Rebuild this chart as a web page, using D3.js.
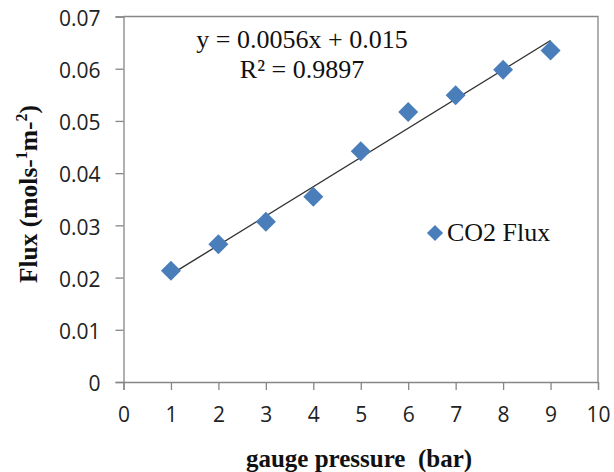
<!DOCTYPE html>
<html>
<head>
<meta charset="utf-8">
<script src="https://cdn.jsdelivr.net/npm/d3@7"></script>
<style>
  html, body { margin: 0; padding: 0; background: #fff; }
  svg { display: block; }
</style>
</head>
<body>
<svg id="chart" width="614" height="472"></svg>
<script>
// Measured CO2 flux against gauge pressure
const pressure = [1, 2, 3, 4, 5, 6, 7, 8, 9];
const flux = [0.0213, 0.0264, 0.0307, 0.0355, 0.0442, 0.0517, 0.0549, 0.0598, 0.0635];
const xTicks = [0, 1, 2, 3, 4, 5, 6, 7, 8, 9, 10];
const yTicks = [0, 0.01, 0.02, 0.03, 0.04, 0.05, 0.06, 0.07];
const slope = 0.0056, intercept = 0.015, rSquared = 0.9897;
const seriesName = "CO2 Flux";

const svg = d3.select("#chart");
const m = { left: 123.5, right: 598, top: 16.5, bottom: 382 };
const axisColor = "#868686";
const markColor = "#4A7EBB";
const serif = "'Liberation Serif', 'Times New Roman', serif";

const x = d3.scaleLinear().domain([0, 10]).range([m.left, m.right]);
const y = d3.scaleLinear().domain([0, 0.07]).range([m.bottom, m.top]);

// Plot frame (top and right edges)
svg.append("path")
  .attr("d", `M${m.left},${m.top}H${m.right}V${m.bottom}`)
  .attr("fill", "none").attr("stroke", axisColor).attr("stroke-width", 1.3);

// Axes
const xAxis = svg.append("g").attr("transform", `translate(0,${m.bottom})`)
  .call(d3.axisBottom(x).tickValues(xTicks).tickSize(8).tickPadding(17).tickFormat(d3.format("d")));
const yAxis = svg.append("g").attr("transform", `translate(${m.left},0)`)
  .call(d3.axisLeft(y).tickValues(yTicks).tickSize(8).tickPadding(15)
    .tickFormat(d => d === 0 ? "0" : d3.format(".2f")(d)));

[xAxis, yAxis].forEach(g => {
  g.select(".domain").attr("stroke", axisColor).attr("stroke-width", 1.3);
  g.selectAll(".tick line").attr("stroke", axisColor).attr("stroke-width", 1.3);
  g.selectAll(".tick text")
    .attr("fill", "#222").attr("font-family", "'Open Sans', sans-serif").attr("font-size", 21);
});
yAxis.selectAll(".tick text").attr("dy", "0.42em");

// Linear trendline across the data range
const fit = v => slope * v + intercept;
const xr = d3.extent(pressure);
svg.append("line")
  .attr("x1", x(xr[0])).attr("y1", y(fit(xr[0])))
  .attr("x2", x(xr[1])).attr("y2", y(fit(xr[1])))
  .attr("stroke", "#333").attr("stroke-width", 1.4);

// Diamond markers
const diamond = d3.symbol().type(d3.symbolSquare).size(200);
svg.append("g").selectAll("path").data(pressure).join("path")
  .attr("d", diamond)
  .attr("transform", (d, i) => `translate(${x(d)},${y(flux[i])}) rotate(45)`)
  .attr("fill", markColor);

// Trendline equation and R²
const eq = svg.append("g").attr("font-family", serif)
  .attr("font-size", 26).attr("fill", "#111");
eq.append("text").attr("x", 302).attr("y", 48).attr("text-anchor", "middle")
  .text(`y = ${slope}x + ${intercept}`);
eq.append("text").attr("x", 302).attr("y", 78).attr("text-anchor", "middle")
  .text(`R² = ${rSquared}`);

// Legend
const lg = svg.append("g");
lg.append("path").attr("d", d3.symbol().type(d3.symbolSquare).size(130))
  .attr("transform", `translate(435,233) rotate(45)`).attr("fill", markColor);
lg.append("text").attr("x", 447).attr("y", 241)
  .attr("font-family", serif)
  .attr("font-size", 26).attr("fill", "#111").text(seriesName);

// Axis titles
svg.append("text").attr("x", 359).attr("y", 467).attr("text-anchor", "middle")
  .attr("font-family", serif)
  .attr("font-weight", "bold").attr("font-size", 25).attr("fill", "#111")
  .attr("xml:space", "preserve").style("white-space", "pre")
  .text("gauge pressure  (bar)");

const yt = svg.append("text")
  .attr("transform", "translate(37,194) rotate(-90)").attr("text-anchor", "middle")
  .attr("font-family", serif)
  .attr("font-weight", "bold").attr("font-size", 25.5).attr("fill", "#111");
yt.append("tspan").text("Flux (mols-");
yt.append("tspan").attr("dy", -10).attr("font-size", 16).text("1");
yt.append("tspan").attr("dy", 10).text("m-");
yt.append("tspan").attr("dy", -10).attr("font-size", 16).text("2");
yt.append("tspan").attr("dy", 10).text(")");
</script>
</body>
</html>
